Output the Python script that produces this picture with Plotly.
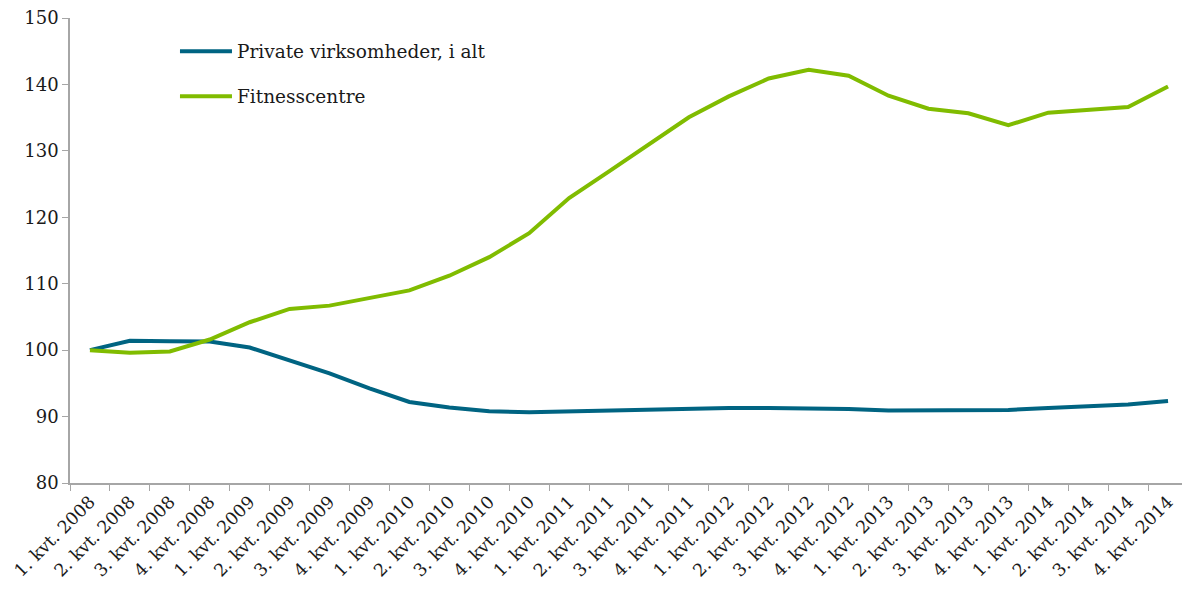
import plotly.graph_objects as go

quarters = [f"{q}. kvt. {y}" for y in range(2008, 2015) for q in range(1, 5)]

private_total = [100.0, 101.4, 101.35, 101.3, 100.4, 98.5, 96.5, 94.25, 92.2, 91.35,
                 90.8, 90.65, 90.8, 90.8, 91.0, 91.15, 91.3, 91.3, 91.25, 91.15,
                 90.9, 90.95, 90.95, 91.0, 91.3, 91.55, 91.8, 92.35]
fitness = [100.0, 99.6, 99.8, 101.6, 104.2, 106.2, 106.7, 107.8, 109.0, 111.2,
           114.0, 117.6, 122.9, 126.9, 130.9, 135.05, 138.2, 140.9, 142.2, 141.3,
           138.3, 136.35, 135.65, 133.85, 135.75, 136.15, 136.6, 139.7]

FONT = "DejaVu Serif"
fig = go.Figure()
fig.add_trace(go.Scatter(x=quarters, y=private_total, mode="lines",
                         name="Private virksomheder, i alt", legendgroup="a",
                         line=dict(color="#006482", width=4)))
fig.add_trace(go.Scatter(x=quarters, y=fitness, mode="lines",
                         name="Fitnesscentre", legendgroup="b",
                         line=dict(color="#80BC00", width=4)))

fig.update_layout(
    width=1182, height=592,
    margin=dict(l=70, r=0, t=18, b=109),
    paper_bgcolor="white", plot_bgcolor="white",
    font=dict(family=FONT, color="#1a1a1a", size=17),
    showlegend=True,
    legend=dict(x=0.0944, y=0.9685, xanchor="left", yanchor="top",
                font=dict(family=FONT, size=18.5, color="#1a1a1a"),
                bgcolor="rgba(0,0,0,0)", tracegroupgap=18, itemwidth=52,
                traceorder="grouped"),
    xaxis=dict(type="category", range=[-0.5, 27.35], tickson="boundaries",
               tickangle=-45, ticks="outside", ticklen=6, tickcolor="#a6a6a6",
               showline=True, linecolor="#a6a6a6", linewidth=1.5,
               showgrid=False, zeroline=False, automargin=False,
               tickfont=dict(family=FONT, size=17.5, color="#1a1a1a")),
    yaxis=dict(range=[80, 150], dtick=10, tick0=80, ticks="outside", ticklen=6,
               tickcolor="#a6a6a6", showline=True, linecolor="#a6a6a6", linewidth=1.5,
               showgrid=False, zeroline=False, automargin=False,
               tickfont=dict(family=FONT, size=18, color="#1a1a1a")),
)

fig.write_html("out.html", config={"displayModeBar": False},
               post_script="document.body.style.margin='0';document.body.style.overflow='hidden';")
